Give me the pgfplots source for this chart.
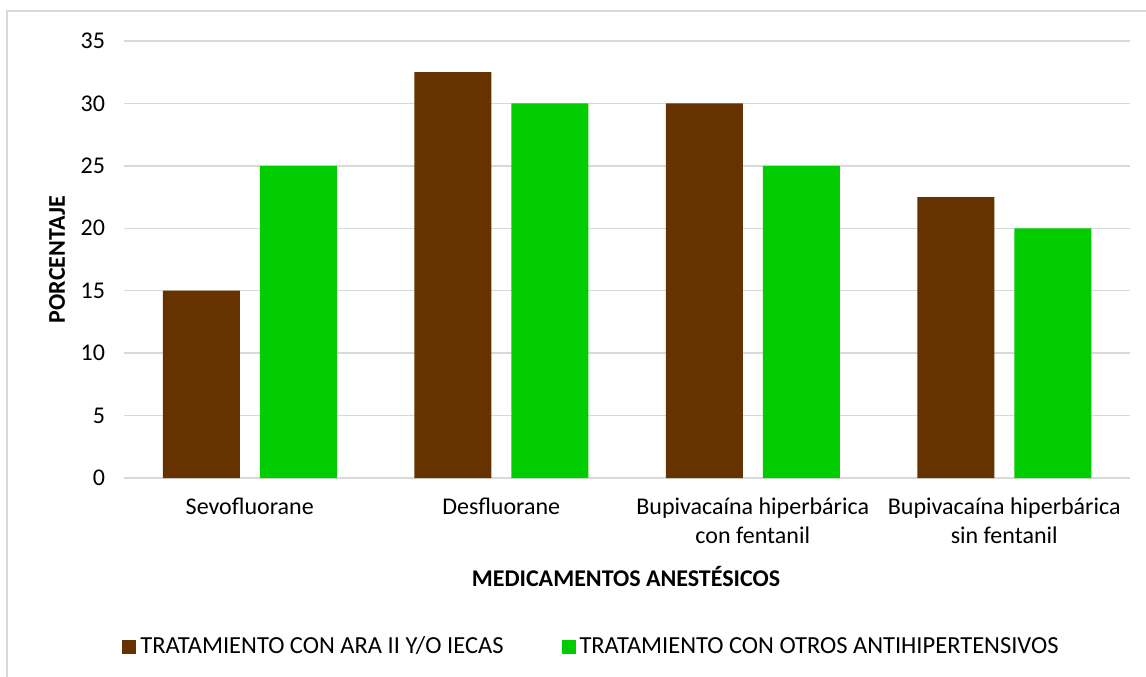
\documentclass[border=0pt]{standalone}
\usepackage{pgfplots}
\pgfplotsset{compat=1.18}
\usepackage{fontspec}
\setmainfont{Carlito}
\definecolor{cbrown}{HTML}{663300}
\definecolor{cgreen}{HTML}{00CC00}
\definecolor{cgrid}{HTML}{D9D9D9}
\begin{document}
\begin{tikzpicture}[x=0.5pt,y=0.5pt]
\useasboundingbox (0,0) rectangle (1146,676);
\draw[cgrid,line width=1pt] (7,-10) -- (7,665) -- (1160,665);
\begin{axis}[
  at={(124pt*0.5,198pt*0.5)}, anchor=south west,
  scale only axis, width=503pt, height=218.5pt,
  xmin=-0.5, xmax=3.5, ymin=0, ymax=35,
  ytick={0,5,...,35},
  xtick={0,1,2,3},
  xticklabels={Sevofluorane, Desfluorane, {Bupivacaína hiperbárica\\con fentanil}, {Bupivacaína hiperbárica\\sin fentanil}},
  xticklabel style={align=center, font=\fontsize{12}{14.5}\selectfont, yshift=-2pt},
  yticklabel style={font=\fontsize{12}{14.5}\selectfont, xshift=-6pt},
  /pgf/number format/assume math mode=true,
  axis line style={draw=none},
  major tick style={draw=none},
  ymajorgrids, grid style={cgrid, line width=0.75pt},
  ylabel={PORCENTAJE},
  ylabel style={at={(axis description cs:-0.0666,0.5)}, anchor=center, rotate=0, font=\bfseries\fontsize{12}{14}\selectfont},
  xlabel={MEDICAMENTOS ANESTÉSICOS},
  xlabel style={at={(axis description cs:0.499,-0.2265)}, anchor=center, font=\bfseries\fontsize{12}{14}\selectfont},
  ybar, bar width=38.5pt,
  legend columns=2,
  legend style={at={(axis description cs:-0.002,-0.386)}, anchor=west, draw=none, inner sep=0pt, font=\fontsize{12.25}{14}\selectfont, /tikz/every even column/.append style={column sep=27pt}},
  legend image code/.code={\fill[#1] (0pt,-3.5pt) rectangle (7pt,3.5pt);},
]
\addplot[fill=cbrown, draw=none, bar shift=-24.25pt] coordinates {(0,15) (1,32.5) (2,30) (3,22.5)};
\addplot[fill=cgreen, draw=none, bar shift=24.25pt] coordinates {(0,25) (1,30) (2,25) (3,20)};
\legend{TRATAMIENTO CON ARA II Y/O IECAS, TRATAMIENTO CON OTROS ANTIHIPERTENSIVOS}
\end{axis}
\end{tikzpicture}
\end{document}
